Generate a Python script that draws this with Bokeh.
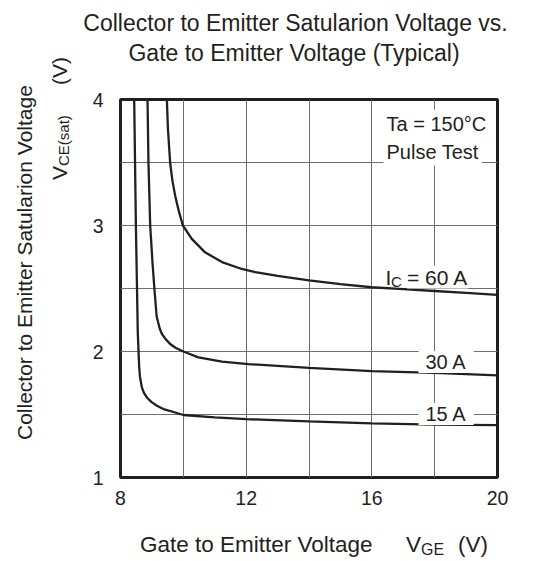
from bokeh.plotting import figure
from bokeh.models import Label, FixedTicker, Range1d, Div
from bokeh.layouts import row, column
from bokeh.embed import file_html
from bokeh.resources import INLINE

# ---- data ----
vge_15a = [8.436, 8.49, 8.55, 8.595, 8.62, 8.68, 8.75, 8.84, 8.98, 9.16, 9.4, 9.74, 10.0, 11.0, 12.0, 14.0, 16.0, 18.0, 20.0]
vce_15a = [4.0, 3.0, 2.15, 1.874, 1.8, 1.715, 1.67, 1.635, 1.6, 1.569, 1.54, 1.516, 1.496, 1.477, 1.463, 1.445, 1.43, 1.42, 1.415]

vge_30a = [8.86, 8.89, 8.945, 9.02, 9.08, 9.15, 9.25, 9.32, 9.43, 9.58, 9.75, 10.0, 10.48, 11.23, 12.07, 14.0, 16.0, 18.0, 20.0]
vce_30a = [4.0, 3.5, 3.0, 2.7, 2.496, 2.28, 2.18, 2.139, 2.1, 2.06, 2.03, 2.0, 1.953, 1.919, 1.90, 1.87, 1.845, 1.83, 1.81]

vge_60a = [9.476, 9.51, 9.58, 9.65, 9.74, 9.85, 9.985, 10.27, 10.69, 11.23, 11.86, 12.29, 13.0, 14.0, 15.0, 16.0, 17.0, 18.0, 19.0, 20.0]
vce_60a = [4.0, 3.767, 3.5, 3.36, 3.237, 3.12, 3.0, 2.894, 2.787, 2.71, 2.655, 2.63, 2.6, 2.565, 2.535, 2.51, 2.495, 2.48, 2.465, 2.45]

x_ticks = [8, 12, 16, 20]
y_ticks = [1, 2, 3, 4]
x_grid = [10, 12, 14, 16, 18]
y_grid = [1.5, 2.0, 2.5, 3.0, 3.5]

title_lines = ["Collector to Emitter Satularion Voltage vs.", "Gate to Emitter Voltage (Typical)"]

INK = "#231f20"
FONT = "Liberation Sans"
CSSFONT = "font-family:'Liberation Sans',Arial,sans-serif;color:#231f20;white-space:pre;"

# page layout: [ylabel div | column(title div, figure, xlabel div)]
YL_W = 75
TI_H = 70
FIG_W, FIG_H = 533 - YL_W, 450
XL_H = 561 - TI_H - FIG_H
# frame edges on the page
PL, PR, PT, PB = 120, 497, 99, 477

p = figure(width=FIG_W, height=FIG_H, output_backend="svg", toolbar_location=None,
           x_range=Range1d(8, 20), y_range=Range1d(1, 4),
           min_border_left=PL - YL_W, min_border_right=533 - PR,
           min_border_top=PT - TI_H, min_border_bottom=TI_H + FIG_H - PB)
p.background_fill_color = "white"
p.border_fill_color = "white"
p.outline_line_color = INK
p.outline_line_width = 3

for ax, tks in ((p.xaxis[0], x_ticks), (p.yaxis[0], y_ticks)):
    ax.ticker = FixedTicker(ticks=tks)
    ax.axis_line_color = None
    ax.major_tick_line_color = None
    ax.minor_tick_line_color = None
    ax.major_label_text_font = FONT
    ax.major_label_text_font_size = "19.5px"
    ax.major_label_text_color = INK
p.xaxis[0].major_label_standoff = 7
p.yaxis[0].major_label_standoff = 11

p.xgrid[0].ticker = FixedTicker(ticks=x_grid)
p.ygrid[0].ticker = FixedTicker(ticks=y_grid)
for g in (p.xgrid[0], p.ygrid[0]):
    g.grid_line_color = "#6d6e71"
    g.grid_line_width = 1

for xs, ys in ((vge_15a, vce_15a), (vge_30a, vce_30a), (vge_60a, vce_60a)):
    p.line(xs, ys, line_color=INK, line_width=2.3)

# page px -> data coordinates (for text placement inside the frame)
def DX(px):
    return 8 + (px - PL) * 12.0 / (PR - PL)

def DY(py):
    return 1 + (PB - py) * 3.0 / (PB - PT)

def lab(text, px, py, size, bg=None, pad=0):
    kw = {}
    if bg:
        kw = dict(background_fill_color=bg, padding=pad)
    p.add_layout(Label(x=DX(px), y=DY(py), text=text, text_font=FONT,
                       text_font_size=size, text_color=INK, text_align="left",
                       text_baseline="alphabetic", **kw))

HP = 7
HPAD = dict(left=HP, right=HP, top=0, bottom=0)
lab("Ta = 150\u00b0C", 383, 123, "20px", bg="white", pad=3)
lab("Pulse Test", 383, 151, "20px", bg="white", pad=3)
lab("I", 385, 276.5, "21px")
lab("C", 390.5, 281, "15px")
lab("= 60 A", 406.5, 276.5, "21px", bg="white", pad=0)
lab("30 A", 425 - HP, 361.5, "20px", bg="white", pad=HPAD)
lab("15 A", 425 - HP, 413.5, "20px", bg="white", pad=HPAD)

# ---- texts outside the frame (HTML, so subscripts are possible) ----
BASE = 0.8465  # baseline offset (em) for line-height 1 with Liberation Sans

def span(text, left, baseline, size, extra=""):
    top = baseline - BASE * size
    return (f'<div style="position:absolute;left:{left}px;top:{top:.1f}px;'
            f'font-size:{size}px;line-height:{size}px;{CSSFONT}{extra}">{text}</div>')

def vspan(text, baseline_x, start_y, size):
    # rotated 90deg counter-clockwise, reading bottom to top
    left = baseline_x - BASE * size
    return (f'<div style="position:absolute;left:{left:.1f}px;top:{start_y}px;'
            f'font-size:{size}px;line-height:{size}px;transform:rotate(-90deg);'
            f'transform-origin:0 0;{CSSFONT}">{text}</div>')

def box(inner, w, h):
    return f'<div style="position:relative;width:{w}px;height:{h}px;">{inner}</div>'

# title (page coords shifted by the ylabel column)
t_html = (f'<div style="position:absolute;left:{-200}px;width:{2*(295.5-YL_W)+400}px;'
          f'top:{31.5-BASE*23:.1f}px;text-align:center;font-size:23px;line-height:23px;{CSSFONT}">{title_lines[0]}</div>'
          f'<div style="position:absolute;left:{-200}px;width:{2*(294-YL_W)+400}px;'
          f'top:{61.5-BASE*23:.1f}px;text-align:center;font-size:23px;line-height:23px;{CSSFONT}">{title_lines[1]}</div>')
title_div = Div(text=box(t_html, FIG_W, TI_H), width=FIG_W, height=TI_H, margin=0)

sub_style = 'font-size:16px;position:relative;top:3px;'
x_html = (span("Gate to Emitter Voltage", 140 - YL_W, 553 - TI_H - FIG_H, 22.5)
          + span(f'V<span style="{sub_style}">GE</span>', 406 - YL_W, 553 - TI_H - FIG_H, 22.5)
          + span("(V)", 458 - YL_W, 553 - TI_H - FIG_H, 22.5))
xlab_div = Div(text=box(x_html, FIG_W, XL_H), width=FIG_W, height=XL_H, margin=0)

sub_v = 'font-size:15px;position:relative;top:2px;'
y_html = (vspan("Collector to Emitter Satularion Voltage", 32, 440, 21)
          + vspan(f'V<span style="{sub_v}">CE(sat)</span>', 66.5, 180, 21)
          + vspan("(V)", 66.5, 85, 21))
ylab_div = Div(text=box(y_html, YL_W, 561), width=YL_W, height=561, margin=0)

layout = row(ylab_div, column(title_div, p, xlab_div, spacing=0), spacing=0)

open("out.html", "w").write(file_html(layout, INLINE))
